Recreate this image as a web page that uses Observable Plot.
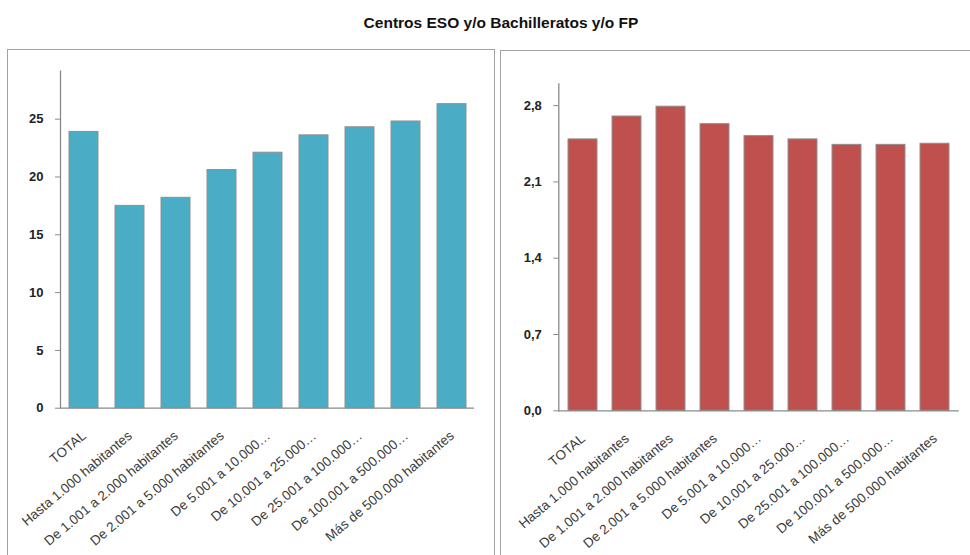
<!DOCTYPE html>
<html>
<head>
<meta charset="utf-8">
<script src="https://cdn.jsdelivr.net/npm/d3@7"></script>
<script src="https://cdn.jsdelivr.net/npm/@observablehq/plot@0.6"></script>
<style>
  html, body { margin: 0; padding: 0; background: #fff; }
  body { width: 970px; height: 555px; position: relative; overflow: hidden; font-family: "Liberation Sans", Arial, sans-serif; }
  #title { position: absolute; left: 0; top: 13px; width: 1002px; text-align: center; font-size: 15.5px; line-height: 20px; font-weight: bold; color: #111; }
  .box { position: absolute; border: 1.5px solid #a3a3a3; box-sizing: border-box; }
  .chart { position: absolute; top: 40px; }
  .chart svg { background: none !important; overflow: visible; }
</style>
</head>
<body>
<div id="title">Centros ESO y/o Bachilleratos y/o FP</div>
<div class="box" style="left:7px; top:49px; width:487.5px; height:540px;"></div>
<div class="box" style="left:500px; top:49.5px; width:500px; height:540px;"></div>
<div class="chart" id="left" style="left:0px;"></div>
<div class="chart" id="right" style="left:497px;"></div>
<script>
const categories = [
  "TOTAL",
  "Hasta 1.000 habitantes",
  "De 1.001 a 2.000 habitantes",
  "De 2.001 a 5.000 habitantes",
  "De 5.001 a 10.000…",
  "De 10.001 a 25.000…",
  "De 25.001 a 100.000…",
  "De 100.001 a 500.000…",
  "Más de 500.000 habitantes"
];
const leftValues = [23.9, 17.5, 18.2, 20.6, 22.1, 23.6, 24.3, 24.8, 26.3];
const rightValues = [2.49, 2.70, 2.79, 2.63, 2.52, 2.49, 2.44, 2.44, 2.45];
const leftTicks = [0, 5, 10, 15, 20, 25];
const rightTicks = [0, 0.7, 1.4, 2.1, 2.8];
const leftMax = 29.15;
const rightMax = 3.0;

const font = '"Liberation Sans", Arial, sans-serif';

function makeChart({values, ticks, max, color, fmt, width, height, margins, padInner}) {
  const data = categories.map((c, i) => ({cat: c, v: values[i]}));
  return Plot.plot({
    width, height,
    marginLeft: margins[0], marginRight: margins[1], marginTop: margins[2], marginBottom: margins[3],
    style: {fontFamily: font, background: "none", overflow: "visible"},
    x: {domain: categories, paddingInner: padInner, paddingOuter: padInner / 2, axis: null},
    y: {domain: [0, max], axis: null},
    marks: [
      Plot.barY(data, {x: "cat", y: "v", fill: color, stroke: "#8f8f8f", strokeWidth: 1}),
      Plot.ruleY([0], {stroke: "#8a8a8a", strokeWidth: 1.3}),
      Plot.frame({anchor: "left", stroke: "#8a8a8a", strokeWidth: 1.3}),
      Plot.axisY({ticks, label: null, tickSize: 5, tickPadding: 12, tickFormat: fmt, stroke: "#8a8a8a",
        fill: "#222", fontSize: 13, fontWeight: "bold"}),
      Plot.text(data, {x: "cat", y: 0, text: "cat", rotate: -40, textAnchor: "end", lineAnchor: "bottom",
        dx: 3, dy: 29, fontSize: 13.5, fill: "#3a3a3a"})
    ]
  });
}

document.getElementById("left").appendChild(makeChart({
  values: leftValues, ticks: leftTicks, max: leftMax, color: "#4BACC6",
  fmt: d => String(d), width: 497, height: 515,
  margins: [60, 23, 30.7, 147.3], padInner: 0.37
}));

document.getElementById("right").appendChild(makeChart({
  values: rightValues, ticks: rightTicks, max: rightMax, color: "#C0504D",
  fmt: d => d.toFixed(1).replace(".", ","), width: 473, height: 515,
  margins: [61.3, 11.25, 43.3, 144.7], padInner: 0.348
}));
</script>
</body>
</html>
